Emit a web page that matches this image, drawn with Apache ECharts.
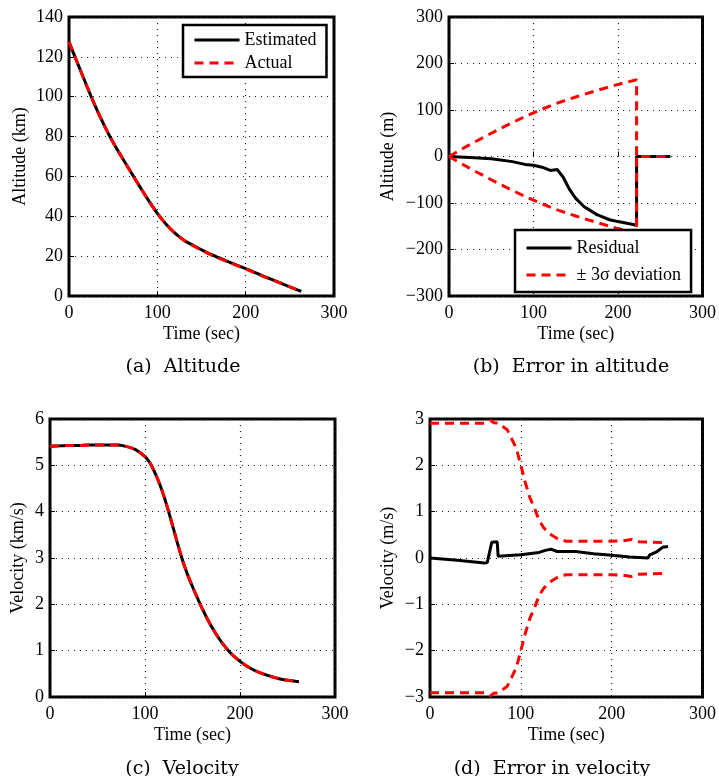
<!DOCTYPE html>
<html>
<head>
<meta charset="utf-8">
<script src="https://cdn.jsdelivr.net/npm/echarts@6/dist/echarts.min.js"></script>
<style>
  html, body { margin: 0; padding: 0; background: #fff; }
  #chart { width: 719px; height: 776px; }
</style>
</head>
<body>
<div id="chart"></div>
<script>
// (a) altitude, km
const altTime = [0, 10, 20, 30, 40, 50, 60, 70, 80, 90, 100, 110, 120, 130, 140, 150, 160, 170, 180, 190, 200, 210, 220, 230, 240, 250, 263]
const altEstimated = [127.5, 116.5, 105.5, 95, 85.5, 77, 69.5, 62.2, 55, 48, 41.5, 36, 31.5, 28, 25.5, 23.2, 21, 19.1, 17.3, 15.5, 13.7, 11.9, 10, 8.2, 6.4, 4.6, 2.3]
const altActual = [127.5, 116.5, 105.5, 95, 85.5, 77, 69.5, 62.2, 55, 48, 41.5, 36, 31.5, 28, 25.4, 23.0, 20.8, 18.9, 17.1, 15.3, 13.5, 11.7, 9.9, 8.1, 6.4, 4.6, 2.3]

// (b) altitude error, m
const altErrTime = [0, 25, 50, 75, 90, 100, 110, 120, 128, 135, 143, 150, 160, 175, 190, 200, 215, 222, 222, 262]
const altResidual = [0, -2, -5, -11, -17, -19, -23, -30, -28, -44, -72, -90, -108, -125, -136, -140, -145, -148, 0, 0]
const altSigTime = [0, 25, 50, 75, 100, 125, 150, 175, 200, 222, 222, 262]
const altSigUpper = [0, 26, 50, 73, 94, 113, 128, 142, 155, 165, 0, 0]
const altSigLower = [0, -26, -50, -73, -94, -113, -128, -142, -155, -165, 0, 0]

// (c) velocity, km/s
const velTime = [0, 10, 20, 30, 40, 50, 60, 70, 80, 90, 100, 105, 110, 115, 120, 125, 130, 135, 140, 145, 150, 160, 170, 180, 190, 200, 210, 220, 230, 240, 250, 262]
const velEstimated = [5.41, 5.42, 5.43, 5.43, 5.44, 5.44, 5.44, 5.44, 5.41, 5.34, 5.19, 5.06, 4.86, 4.62, 4.33, 3.99, 3.63, 3.26, 2.92, 2.63, 2.38, 1.92, 1.52, 1.2, 0.95, 0.77, 0.63, 0.53, 0.46, 0.4, 0.36, 0.33]
const velActual = [5.41, 5.42, 5.43, 5.43, 5.44, 5.44, 5.44, 5.44, 5.41, 5.34, 5.19, 5.06, 4.86, 4.62, 4.33, 3.99, 3.63, 3.26, 2.92, 2.63, 2.38, 1.92, 1.52, 1.2, 0.95, 0.77, 0.63, 0.53, 0.46, 0.4, 0.36, 0.33]

// (d) velocity error, m/s
const velErrTime = [0, 30, 60, 63, 68, 74, 75, 100, 120, 128, 133, 140, 160, 180, 200, 220, 240, 242, 250, 256, 262]
const velResidual = [0, -0.05, -0.11, -0.1, 0.34, 0.35, 0.04, 0.07, 0.12, 0.17, 0.19, 0.14, 0.14, 0.09, 0.06, 0.02, 0.0, 0.07, 0.14, 0.23, 0.25]
const velSigTime = [0, 30, 60, 67, 70, 75, 85, 95, 100, 105, 110, 115, 120, 125, 130, 135, 140, 150, 200, 215, 222, 230, 262]
const velSigUpper = [2.91, 2.91, 2.91, 2.97, 2.92, 2.91, 2.77, 2.37, 2.0, 1.62, 1.3, 1.08, 0.82, 0.66, 0.55, 0.48, 0.42, 0.36, 0.36, 0.38, 0.4, 0.35, 0.33]
const velSigLower = [-2.91, -2.91, -2.91, -2.97, -2.92, -2.91, -2.77, -2.37, -2.0, -1.62, -1.3, -1.08, -0.82, -0.66, -0.55, -0.48, -0.42, -0.36, -0.36, -0.38, -0.4, -0.35, -0.33]

const serif = 'Liberation Serif'
const pair = (xs, ys) => xs.map((x, i) => [x, ys[i]])
const minus = v => String(v).replace('-', '\u2212')

const grids = [
  { left: 69, top: 17, width: 265, height: 279 },
  { left: 449, top: 17, width: 254, height: 279 },
  { left: 50, top: 419, width: 285, height: 278 },
  { left: 430, top: 419, width: 273, height: 278 }
]

function xAxisFor(i) {
  return {
    gridIndex: i,
    type: 'value',
    min: 0,
    max: 300,
    interval: 100,
    name: 'Time (sec)',
    nameLocation: 'middle',
    nameGap: 29,
    nameTextStyle: { color: '#000', fontFamily: serif, fontSize: 18 },
    axisLine: { show: false },
    axisTick: { show: true, inside: true, length: 5, lineStyle: { color: '#000', width: 1 } },
    axisLabel: { color: '#000', fontFamily: serif, fontSize: 18, margin: 8, formatter: minus },
    splitLine: { show: true, lineStyle: { color: '#222', width: 1.2, type: [1, 5] } }
  }
}

function yAxisFor(i, name, min, max, interval, gap) {
  return {
    gridIndex: i,
    type: 'value',
    min: min,
    max: max,
    interval: interval,
    name: name,
    nameLocation: 'middle',
    nameGap: gap,
    nameTextStyle: { color: '#000', fontFamily: serif, fontSize: 18 },
    axisLine: { show: false },
    axisTick: { show: true, inside: true, length: 5, lineStyle: { color: '#000', width: 1 } },
    axisLabel: { color: '#000', fontFamily: serif, fontSize: 18, margin: 6, formatter: minus },
    splitLine: { show: true, lineStyle: { color: '#222', width: 1.2, type: [1, 5] } }
  }
}

function lineSeries(name, i, data, dashed, smooth) {
  return {
    name: name,
    type: 'line',
    xAxisIndex: i,
    yAxisIndex: i,
    data: data,
    symbol: 'none',
    smooth: smooth,
    animation: false,
    lineStyle: dashed
      ? { color: '#ff0000', width: 3, type: [9, 6] }
      : { color: '#000', width: 3, type: 'solid' },
    itemStyle: { color: dashed ? '#ff0000' : '#000' }
  }
}

const legendBase = {
  orient: 'vertical',
  backgroundColor: '#fff',
  borderColor: '#000',
  borderWidth: 2.5,
  borderRadius: 0,
  itemWidth: 45,
  itemHeight: 14,
  selectedMode: false,
  // hide the marker dot, keep only the line sample
  itemStyle: { color: 'transparent', borderColor: 'transparent', borderWidth: 0 },
  lineStyle: { width: 3 },
  textStyle: { color: '#000', fontFamily: serif, fontSize: 18, lineHeight: 18 }
}

const captionStyle = { color: '#000', fontFamily: 'DejaVu Serif', fontSize: 19, fontWeight: 'normal' }

const chart = echarts.init(document.getElementById('chart'))
const option = {
  backgroundColor: '#fff',
  animation: false,
  grid: grids.map(g => Object.assign({ show: true, borderColor: '#000', borderWidth: 3, backgroundColor: 'transparent' }, g)),
  title: [
    { text: '(a)\u00a0 Altitude', left: 178, top: 353, textAlign: 'center', textStyle: captionStyle },
    { text: '(b)\u00a0 Error in altitude', left: 566, top: 353, textAlign: 'center', textStyle: captionStyle },
    { text: '(c)\u00a0 Velocity', left: 177, top: 755, textAlign: 'center', textStyle: captionStyle },
    { text: '(d)\u00a0 Error in velocity', left: 547, top: 755, textAlign: 'center', textStyle: captionStyle }
  ],
  legend: [
    Object.assign({}, legendBase, {
      data: ['Estimated', 'Actual'],
      left: 183,
      top: 25,
      itemGap: 5,
      padding: [6, 10, 5, 10]
    }),
    Object.assign({}, legendBase, {
      data: ['Residual', '\u00b1 3\u03c3 deviation'],
      left: 515,
      top: 230,
      itemGap: 9,
      padding: [9, 10, 8, 10]
    })
  ],
  xAxis: [0, 1, 2, 3].map(xAxisFor),
  yAxis: [
    yAxisFor(0, 'Altitude (km)', 0, 140, 20, 40),
    yAxisFor(1, 'Altitude (m)', -300, 300, 100, 52),
    yAxisFor(2, 'Velocity (km/s)', 0, 6, 1, 23),
    yAxisFor(3, 'Velocity (m/s)', -3, 3, 1, 33)
  ],
  series: [
    lineSeries('Estimated', 0, pair(altTime, altEstimated), false, 0.3),
    lineSeries('Actual', 0, pair(altTime, altActual), true, 0.3),
    lineSeries('Residual', 1, pair(altErrTime, altResidual), false, false),
    lineSeries('\u00b1 3\u03c3 deviation', 1, pair(altSigTime, altSigUpper), true, false),
    lineSeries('\u00b1 3\u03c3 deviation', 1, pair(altSigTime, altSigLower), true, false),
    lineSeries('Velocity estimated', 2, pair(velTime, velEstimated), false, 0.3),
    lineSeries('Velocity actual', 2, pair(velTime, velActual), true, 0.3),
    lineSeries('Velocity residual', 3, pair(velErrTime, velResidual), false, false),
    lineSeries('Velocity upper bound', 3, pair(velSigTime, velSigUpper), true, false),
    lineSeries('Velocity lower bound', 3, pair(velSigTime, velSigLower), true, false)
  ]
}
chart.setOption(option)
window.addEventListener('resize', () => chart.resize())
</script>
</body>
</html>
